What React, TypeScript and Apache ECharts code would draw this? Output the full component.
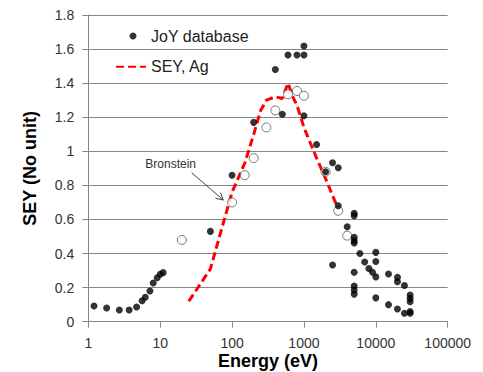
import React, { useEffect, useRef } from "react";
import * as echarts from "echarts";

// JoY database (filled black dots)
const joyEnergy = [
  1.2, 1.8, 2.7, 3.7, 4.7, 5.6, 6.2, 7.2, 8.0, 9.1, 10, 11,
  50, 100, 200, 400, 500, 600, 800, 1000, 1000, 1000, 1500,
  2000, 2500, 3000, 3000, 4000,
  5000, 5000, 5000, 5000, 5000, 5000, 5000, 5000, 5000,
  2500, 6000, 7000, 8000, 9000,
  10000, 10000, 10000, 10000,
  15000, 15000, 20000, 20000, 20000, 25000, 25000,
  30000, 30000, 30000, 30000, 30000,
];
const joyYield = [
  0.092, 0.08, 0.069, 0.069, 0.086, 0.123, 0.143, 0.18, 0.227, 0.258, 0.279, 0.288,
  0.53, 0.86, 1.17, 1.48, 1.217, 1.565, 1.565, 1.565, 1.618, 1.209, 1.04,
  0.88, 0.933, 0.904, 0.68, 0.557,
  0.636, 0.622, 0.495, 0.475, 0.462, 0.29, 0.209, 0.186, 0.162,
  0.333, 0.4, 0.35, 0.312, 0.29,
  0.407, 0.353, 0.263, 0.14,
  0.28, 0.1, 0.26, 0.235, 0.075, 0.212, 0.05,
  0.157, 0.137, 0.117, 0.06, 0.05,
];

// Bronstein (open circles)
const bronEnergy = [20, 100, 150, 200, 300, 400, 600, 800, 1000, 2000, 3000, 4000];
const bronYield = [0.48, 0.7, 0.86, 0.96, 1.14, 1.24, 1.335, 1.354, 1.326, 0.88, 0.651, 0.505];

// SEY, Ag (red dashed curve)
const agEnergy = [25, 50, 70, 100, 150, 200, 250, 300, 400, 500, 600, 700, 800, 1000, 1500, 2000, 3000];
const agYield = [0.12, 0.31, 0.53, 0.76, 0.93, 1.1, 1.24, 1.3, 1.32, 1.31, 1.4, 1.32, 1.27, 1.14, 0.96, 0.84, 0.66];

const xTickLabels = ["1", "10", "100", "1000", "10000", "100000"];
const yTickLabels = ["0", "0.2", "0.4", "0.6", "0.8", "1", "1.2", "1.4", "1.6", "1.8"];

// Annotation anchor points (data coordinates)
const noteText = "Bronstein";
const notePos = [14, 0.925];
const arrowFrom = [27.4, 0.874];
const arrowTo = [75.5, 0.714];

const FONT = "'Liberation Sans', Arial, sans-serif";

export default function App() {
  const ref = useRef<HTMLDivElement>(null);

  useEffect(() => {
    if (!ref.current) return;
    const chart = echarts.init(ref.current, null, { renderer: "svg" });
    const zip = (a: number[], b: number[]) => a.map((v, i) => [v, b[i]]);

    const option: any = {
      animation: false,
      backgroundColor: "#fff",
      textStyle: { fontFamily: FONT },
      grid: {
        left: 88.3,
        right: 35.3,
        top: 15,
        bottom: 50.3,
        containLabel: false,
        outerBoundsMode: "none",
      },
      legend: [
        {
          data: ["JoY database"],
          left: 129.5,
          top: 28,
          padding: 0,
          itemWidth: 26,
          itemHeight: 7,
          selectedMode: false,
          textStyle: { fontSize: 16, color: "#222", fontFamily: FONT },
        },
        {
          data: ["SEY, Ag"],
          left: 115,
          top: 58.7,
          padding: 0,
          itemWidth: 30,
          itemHeight: 14,
          selectedMode: false,
          itemStyle: { opacity: 0, borderWidth: 0 },
          textStyle: { fontSize: 16, color: "#222", fontFamily: FONT },
        },
      ],
      xAxis: {
        type: "log",
        logBase: 10,
        min: 1,
        max: 100000,
        name: "Energy (eV)",
        nameLocation: "middle",
        nameGap: 30,
        nameMoveOverlap: false,
        nameTextStyle: { fontSize: 18, fontWeight: "bold", color: "#000", fontFamily: FONT },
        axisLine: { show: true, lineStyle: { color: "#868686", width: 1 } },
        axisTick: { show: true, length: 6, lineStyle: { color: "#868686" } },
        minorTick: { show: false },
        splitLine: { show: false },
        axisLabel: {
          fontSize: 14,
          color: "#333",
          margin: 14,
          fontFamily: FONT,
          formatter: (v: number) => xTickLabels[Math.round(Math.log10(v))] ?? "",
        },
      },
      yAxis: {
        type: "value",
        min: 0,
        max: 1.8,
        interval: 0.2,
        name: "SEY (No unit)",
        nameLocation: "middle",
        nameGap: 49,
        nameRotate: 90,
        nameMoveOverlap: false,
        nameTextStyle: { fontSize: 18, fontWeight: "bold", color: "#000", fontFamily: FONT },
        axisLine: { show: true, lineStyle: { color: "#868686", width: 1 } },
        axisTick: { show: true, length: 6, lineStyle: { color: "#868686" } },
        splitLine: { show: true, lineStyle: { color: "#868686", width: 1 } },
        axisLabel: {
          fontSize: 14,
          color: "#333",
          margin: 14,
          fontFamily: FONT,
          formatter: (v: number) => yTickLabels[Math.round(v / 0.2)] ?? "",
        },
      },
      series: [
        {
          name: "SEY, Ag",
          type: "line",
          z: 2,
          data: zip(agEnergy, agYield),
          symbol: "none",
          lineStyle: { color: "#ff0000", width: 3, type: [8, 4] },
          itemStyle: { color: "#ff0000" },
        },
        {
          name: "Bronstein",
          type: "scatter",
          z: 3,
          data: zip(bronEnergy, bronYield),
          symbol: "circle",
          symbolSize: 9,
          itemStyle: { color: "#ffffff", borderColor: "#555", borderWidth: 1 },
        },
        {
          name: "JoY database",
          type: "scatter",
          z: 4,
          data: zip(joyEnergy, joyYield),
          symbol: "circle",
          symbolSize: 7,
          itemStyle: { color: "#000" },
        },
      ],
    };
    chart.setOption(option);

    const px = (p: number[]) => chart.convertToPixel({ xAxisIndex: 0, yAxisIndex: 0 }, p) as number[];
    const t = px(notePos);
    const a = px(arrowFrom);
    const b = px(arrowTo);
    const dx = b[0] - a[0];
    const dy = b[1] - a[1];
    const len = Math.hypot(dx, dy);
    const ux = dx / len;
    const uy = dy / len;
    const head = 8;
    const ang = (28 * Math.PI) / 180;
    const rot = (s: number) => [
      b[0] - head * (ux * Math.cos(s * ang) - uy * Math.sin(s * ang)),
      b[1] - head * (ux * Math.sin(s * ang) + uy * Math.cos(s * ang)),
    ];
    const h1 = rot(1);
    const h2 = rot(-1);

    chart.setOption({
      graphic: [
        {
          type: "text",
          z: 10,
          style: {
            text: noteText,
            x: t[0],
            y: t[1],
            fill: "#333",
            font: `12px ${FONT}`,
            align: "center",
            verticalAlign: "middle",
            textAlign: "center",
            textVerticalAlign: "middle",
          },
        },
        {
          type: "line",
          z: 10,
          shape: { x1: a[0], y1: a[1], x2: b[0], y2: b[1] },
          style: { stroke: "#444", lineWidth: 1 },
        },
        {
          type: "polyline",
          z: 10,
          shape: { points: [h1, [b[0], b[1]], h2] },
          style: { stroke: "#444", lineWidth: 1, fill: "none" },
        },
      ],
    });

    return () => chart.dispose();
  }, []);

  return (
    <div
      ref={ref}
      style={{ position: "fixed", left: 0, top: 0, width: 483, height: 372, background: "#fff" }}
    />
  );
}
